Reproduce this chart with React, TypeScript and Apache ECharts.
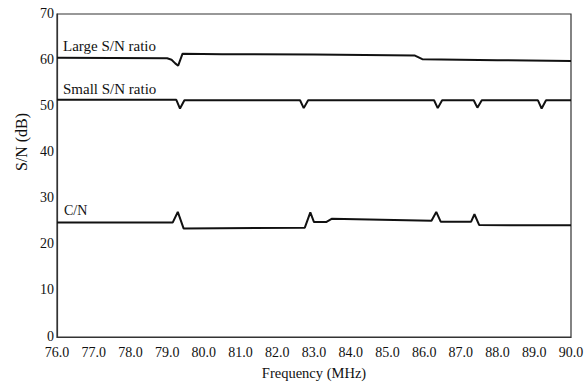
import React, { useEffect, useRef } from "react";
import * as echarts from "echarts";

const xTickLabels = ["76.0","77.0","78.0","79.0","80.0","81.0","82.0","83.0","84.0","85.0","86.0","87.0","88.0","89.0","90.0"];
const yTickLabels = ["0","10","20","30","40","50","60","70"];

const largeFreq = [76, 79.0, 79.12, 79.22, 79.3, 79.42, 80.5, 83.0, 85.75, 85.95, 88.0, 90.0];
const largeVal = [60.5, 60.4, 60.1, 59.3, 58.8, 61.4, 61.3, 61.2, 61.0, 60.2, 60.0, 59.8];

const smallFreq = [76, 79.25, 79.35, 79.47, 82.62, 82.72, 82.84, 86.27, 86.37, 86.49, 87.35, 87.45, 87.57, 89.1, 89.2, 89.32, 90.0];
const smallVal = [51.4, 51.4, 49.5, 51.3, 51.3, 49.6, 51.3, 51.3, 49.6, 51.3, 51.3, 49.7, 51.3, 51.3, 49.5, 51.3, 51.3];

const cnFreq = [76, 79.15, 79.29, 79.45, 82.75, 82.9, 83.0, 83.33, 83.48, 86.2, 86.33, 86.45, 87.28, 87.37, 87.5, 90.0];
const cnVal = [24.8, 24.8, 27.1, 23.5, 23.7, 27.0, 24.9, 24.9, 25.6, 25.2, 27.1, 25.0, 25.0, 26.6, 24.25, 24.2];

const seriesNames = ["Large S/N ratio", "Small S/N ratio", "C/N"];

const zip = (xs: number[], ys: number[]) => xs.map((x, i) => [x, ys[i]]);

const FONT = "Liberation Serif";

export default function App() {
  const ref = useRef<HTMLDivElement>(null);
  useEffect(() => {
    if (!ref.current) return;
    const chart = echarts.init(ref.current, undefined, { renderer: "svg" });
    const lineStyle = { color: "#111", width: 2 };
    const txt = (text: string, x: number, y: number, size: number, extra: any = {}) => ({
      type: "text",
      x,
      y,
      ...extra,
      style: { text, fill: "#111", fontFamily: FONT, fontSize: size, textAlign: extra.align || "left", textVerticalAlign: "middle" },
    });
    chart.setOption({
      animation: false,
      backgroundColor: "#fff",
      textStyle: { fontFamily: FONT },
      grid: { left: 57, right: 16, top: 14, bottom: 47, show: true, borderColor: "#333", borderWidth: 1.2 },
      xAxis: {
        type: "value",
        min: 76,
        max: 90,
        interval: 1,
        axisLine: { show: true, lineStyle: { color: "#333", width: 1.2 } },
        axisTick: { show: false },
        splitLine: { show: false },
        axisLabel: {
          color: "#111",
          fontFamily: FONT,
          fontSize: 14,
          margin: 8,
          formatter: (v: number) => xTickLabels[Math.round(v - 76)] ?? "",
        },
        name: "Frequency (MHz)",
        nameLocation: "middle",
        nameGap: 28,
        nameTextStyle: { color: "#111", fontFamily: FONT, fontSize: 14.5 },
      },
      yAxis: {
        type: "value",
        min: 0,
        max: 70,
        interval: 10,
        axisLine: { show: true, lineStyle: { color: "#333", width: 1.2 } },
        axisTick: { show: false },
        splitLine: { show: false },
        axisLabel: {
          color: "#111",
          fontFamily: FONT,
          fontSize: 14,
          margin: 3,
          verticalAlign: "bottom",
          lineHeight: 14,
          padding: [0, 0, -6, 0],
          formatter: (v: number) => yTickLabels[Math.round(v / 10)] ?? "",
        },
      },
      graphic: [
        txt("S/N (dB)", 21, 142, 16, { rotation: Math.PI / 2, align: "center" }),
        txt(seriesNames[0], 63, 46, 15),
        txt(seriesNames[1], 63, 89, 15),
        txt(seriesNames[2], 64, 210, 14),
      ],
      series: [
        { name: seriesNames[0], type: "line", data: zip(largeFreq, largeVal), showSymbol: false, lineStyle, itemStyle: { color: "#111" } },
        { name: seriesNames[1], type: "line", data: zip(smallFreq, smallVal), showSymbol: false, lineStyle, itemStyle: { color: "#111" } },
        { name: seriesNames[2], type: "line", data: zip(cnFreq, cnVal), showSymbol: false, lineStyle, itemStyle: { color: "#111" } },
      ],
    });
    return () => chart.dispose();
  }, []);
  return <div ref={ref} style={{ width: 587, height: 385, position: "absolute", left: 0, top: 0 }} />;
}
